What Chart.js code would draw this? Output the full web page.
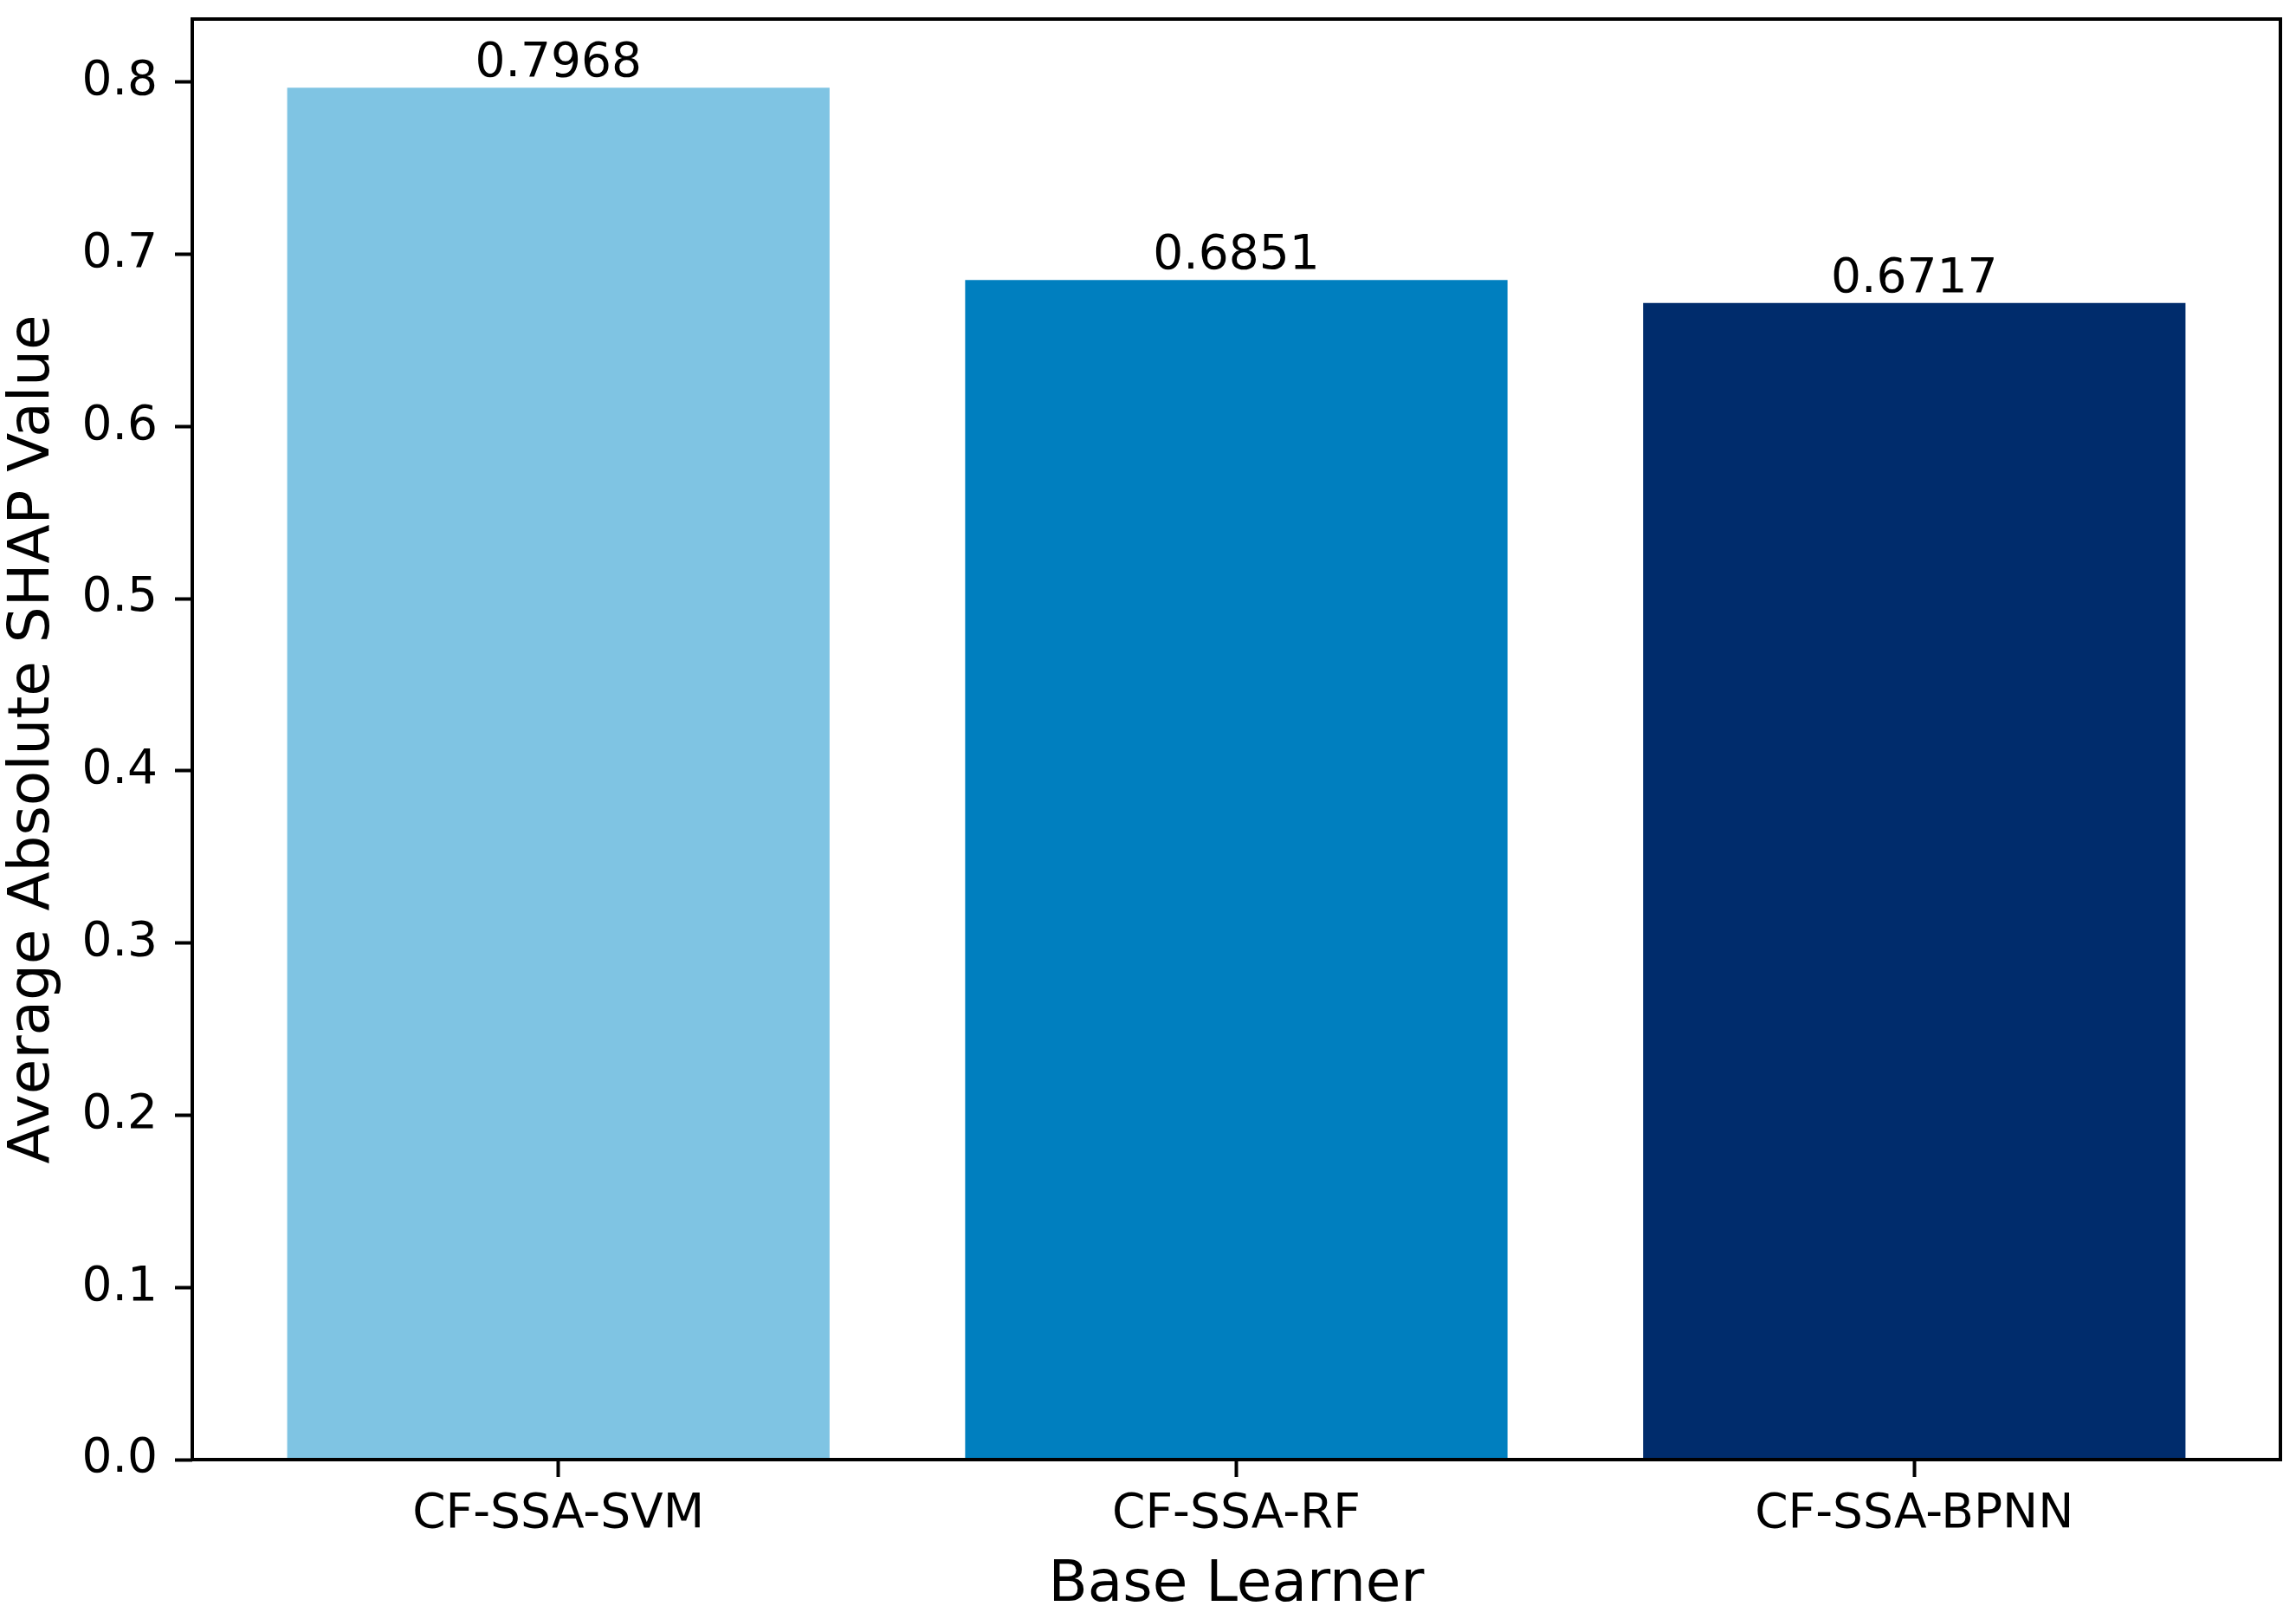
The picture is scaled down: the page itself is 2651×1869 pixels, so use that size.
<!DOCTYPE html>
<html>
<head>
<meta charset="utf-8">
<script src="https://cdn.jsdelivr.net/npm/chart.js@4/dist/chart.umd.min.js"></script>
<style>
  html, body { margin: 0; padding: 0; background: #ffffff; }
  #c { display: block; width: 2651px; height: 1869px; }
</style>
</head>
<body>
<canvas id="c" width="2651" height="1869"></canvas>
<script>
// ---- data ----
const categories = ['CF-SSA-SVM', 'CF-SSA-RF', 'CF-SSA-BPNN'];
const shapValues = [0.7968, 0.6851, 0.6717];
const yTickValues = [0.0, 0.1, 0.2, 0.3, 0.4, 0.5, 0.6, 0.7, 0.8];
const xTitle = 'Base Learner';
const yTitle = 'Average Absolute SHAP Value';

// ---- styles ----
const barColors = ['#7fc4e3', '#007fbf', '#002c6c'];
const FONT = 'DejaVu Sans';
const LINE_W = 4;

const yMax = Math.max(...shapValues) * 1.05;
const xMin = -0.4 - 0.05 * (categories.length - 1 + 0.8);
const xMax = (categories.length - 1) + 0.4 + 0.05 * (categories.length - 1 + 0.8);

const framePlugin = {
  id: 'frame',
  afterDatasetsDraw(chart) {
    const ctx = chart.ctx;
    const meta = chart.getDatasetMeta(0);
    ctx.save();
    ctx.fillStyle = '#000000';
    ctx.font = '55px "' + FONT + '"';
    ctx.textAlign = 'center';
    ctx.textBaseline = 'alphabetic';
    meta.data.forEach((bar, i) => {
      ctx.fillText(shapValues[i].toFixed(4), bar.x, bar.y - 13);
    });
    ctx.restore();
  },
  afterDraw(chart) {
    const {ctx, chartArea: a} = chart;
    ctx.save();
    ctx.strokeStyle = '#000000';
    ctx.lineWidth = LINE_W;
    ctx.lineJoin = 'miter';
    ctx.strokeRect(a.left, a.top, a.right - a.left, a.bottom - a.top);
    ctx.restore();
  }
};

function zeroPad(s) {
  s.paddingTop = 0; s.paddingBottom = 0; s.paddingLeft = 0; s.paddingRight = 0;
}

new Chart(document.getElementById('c'), {
  type: 'bar',
  data: {
    datasets: [{
      data: shapValues.map((v, i) => ({x: i, y: v})),
      backgroundColor: barColors,
      borderWidth: 0,
      categoryPercentage: 1.0,
      barPercentage: 0.8
    }]
  },
  options: {
    responsive: false,
    devicePixelRatio: 1,
    animation: false,
    layout: { padding: { top: 22, right: 18, left: 0, bottom: 0 } },
    plugins: {
      legend: { display: false },
      tooltip: { enabled: false },
      title: { display: false }
    },
    scales: {
      x: {
        type: 'linear',
        min: xMin,
        max: xMax,
        offset: false,
        afterBuildTicks: (s) => { s.ticks = categories.map((c, i) => ({value: i})); },
        afterFit: (s) => { s.height = 184; zeroPad(s); },
        ticks: {
          callback: (v) => categories[v],
          color: '#000000',
          font: { family: FONT, size: 55 },
          padding: 11,
          maxRotation: 0,
          autoSkip: false
        },
        grid: {
          offset: false,
          drawOnChartArea: false,
          drawTicks: true,
          tickLength: 20,
          tickWidth: LINE_W,
          tickColor: '#000000',
          color: '#000000'
        },
        border: { display: false },
        title: {
          display: true,
          text: xTitle,
          color: '#000000',
          font: { family: FONT, size: 66, lineHeight: 1 },
          padding: { top: 0, bottom: 5 }
        }
      },
      y: {
        type: 'linear',
        min: 0,
        max: yMax,
        afterBuildTicks: (s) => { s.ticks = yTickValues.map(v => ({value: v})); },
        afterFit: (s) => { s.width = 222; zeroPad(s); },
        ticks: {
          callback: (v) => Number(v).toFixed(1),
          color: '#000000',
          font: { family: FONT, size: 55 },
          padding: 20
        },
        grid: {
          drawOnChartArea: false,
          drawTicks: true,
          tickLength: 20,
          tickWidth: LINE_W,
          tickColor: '#000000',
          color: '#000000'
        },
        border: { display: false },
        title: {
          display: true,
          text: yTitle,
          color: '#000000',
          font: { family: FONT, size: 66, lineHeight: 1 },
          padding: { top: 6, bottom: 0 }
        }
      }
    }
  },
  plugins: [framePlugin]
});
</script>
</body>
</html>
